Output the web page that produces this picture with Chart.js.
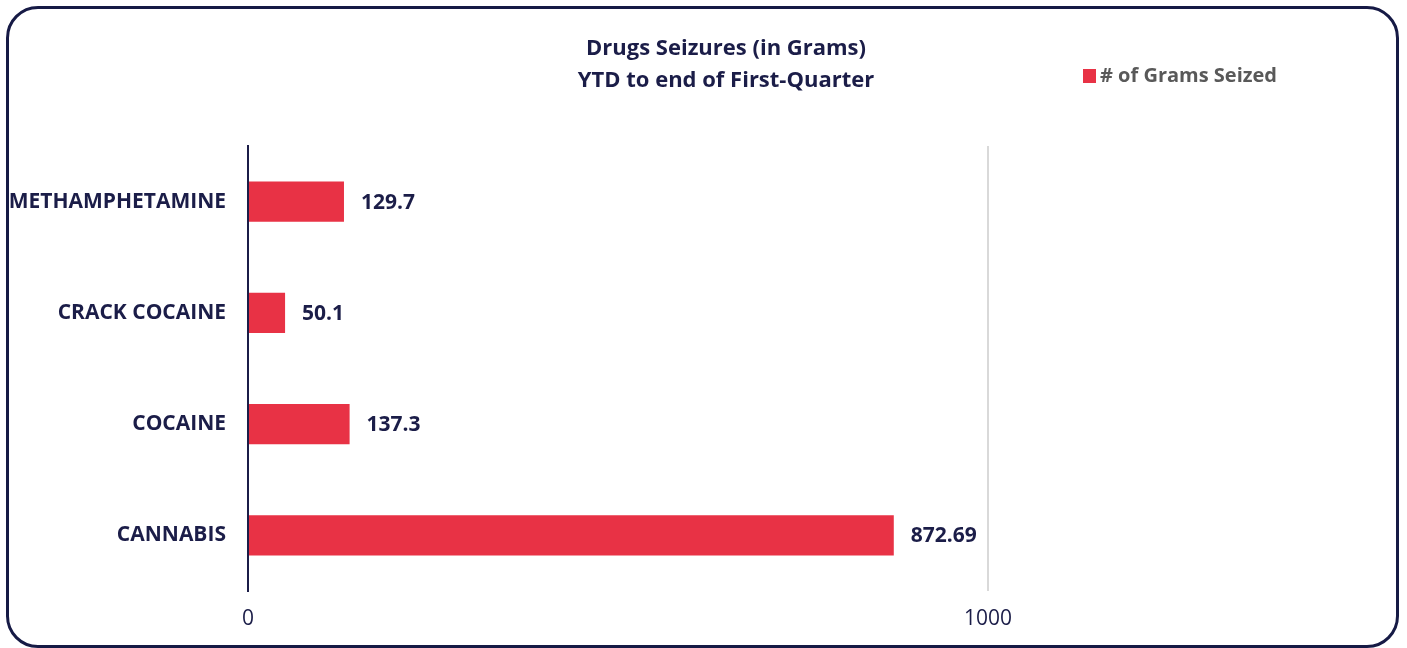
<!DOCTYPE html>
<html>
<head>
<meta charset="utf-8">
<script src="https://cdn.jsdelivr.net/npm/chart.js@4/dist/chart.umd.min.js"></script>
<style>
  html, body { margin: 0; padding: 0; background: #ffffff; }
  #wrap { position: relative; width: 1407px; height: 648px; overflow: hidden; }
  #frame {
    position: absolute; left: 6px; top: 6px; width: 1387px; height: 636px;
    border: 3px solid #161a45; border-radius: 32px; box-sizing: content-box;
  }
  canvas { position: absolute; left: 0; top: 0; }
</style>
</head>
<body>
<div id="wrap">
  <div id="frame"></div>
  <canvas id="chart" width="1407" height="648"></canvas>
</div>
<script>
// Drug seizures, year to date at end of the first quarter (grams)
const categories = ['METHAMPHETAMINE', 'CRACK COCAINE', 'COCAINE', 'CANNABIS'];
const gramsSeized = [129.7, 50.1, 137.3, 872.69];
const seriesLabel = '# of Grams Seized';
const titleLines = ['Drugs Seizures (in Grams)', 'YTD to end of First-Quarter'];
const xTicks = [0, 1000];

const NAVY = '#1b1d48';
const RED = '#e83245';
const FONT = '"Open Sans", Lato, sans-serif';

// Value labels at the end of each bar
const valueLabels = {
  id: 'valueLabels',
  afterDatasetsDraw(chart) {
    const ctx = chart.ctx;
    const meta = chart.getDatasetMeta(0);
    ctx.save();
    ctx.font = 'bold 21px ' + FONT;
    ctx.fillStyle = NAVY;
    ctx.textAlign = 'left';
    ctx.textBaseline = 'middle';
    meta.data.forEach((bar, i) => {
      ctx.fillText(String(gramsSeized[i]), bar.x + 17, bar.y + 1);
    });
    ctx.restore();
  }
};

// Two-line heading centred across the panel, and the legend entry at the top right
const headerAndLegend = {
  id: 'headerAndLegend',
  afterDraw(chart) {
    const ctx = chart.ctx;
    const ds = chart.data.datasets[0];
    ctx.save();
    ctx.font = 'bold 22px ' + FONT;
    ctx.fillStyle = NAVY;
    ctx.textAlign = 'center';
    ctx.textBaseline = 'alphabetic';
    titleLines.forEach((line, i) => ctx.fillText(line, 726, 55 + i * 32));

    ctx.fillStyle = ds.backgroundColor;
    ctx.fillRect(1083, 69, 13, 14);
    ctx.font = 'bold 20px ' + FONT;
    ctx.fillStyle = '#595959';
    ctx.textAlign = 'left';
    ctx.fillText(ds.label, 1100, 82);
    ctx.restore();
  }
};

new Chart(document.getElementById('chart'), {
  type: 'bar',
  data: {
    labels: categories,
    datasets: [{
      label: seriesLabel,
      data: gramsSeized,
      backgroundColor: RED,
      borderWidth: 0,
      categoryPercentage: 1,
      barPercentage: 0.36
    }]
  },
  options: {
    indexAxis: 'y',
    responsive: false,
    animation: false,
    layout: { padding: { left: 0, right: 419, top: 146, bottom: 0 } },
    plugins: {
      legend: { display: false },
      tooltip: { enabled: false },
      title: { display: false }
    },
    scales: {
      x: {
        min: 0,
        max: 1000,
        afterBuildTicks(scale) { scale.ticks = xTicks.map(v => ({ value: v })); },
        afterFit(scale) { scale.height = 57; },
        grid: {
          drawTicks: false,
          color: (c) => c.tick && c.tick.value === 0 ? 'rgba(0,0,0,0)' : '#d9d9d9',
          lineWidth: 2
        },
        border: { display: false },
        ticks: {
          padding: 15,
          color: NAVY,
          font: { family: FONT, size: 21 },
          callback: (v) => String(v)
        }
      },
      y: {
        afterFit(scale) { scale.width = 248; },
        grid: { display: false, drawTicks: false },
        border: { display: true, color: NAVY, width: 2 },
        ticks: {
          padding: 22,
          color: NAVY,
          font: { family: FONT, size: 21, weight: 'bold' }
        }
      }
    }
  },
  plugins: [valueLabels, headerAndLegend]
});
</script>
</body>
</html>
